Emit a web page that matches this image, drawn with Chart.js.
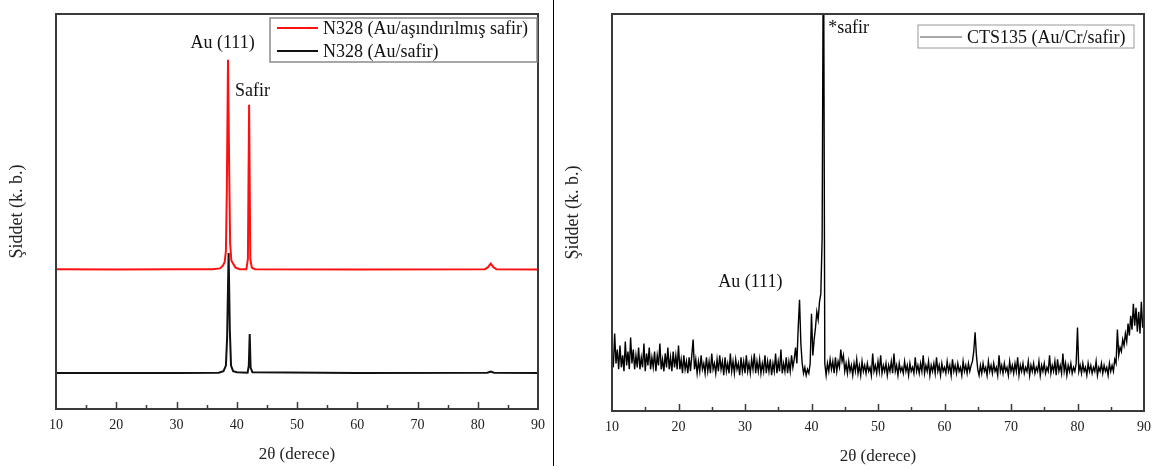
<!DOCTYPE html>
<html>
<head>
<meta charset="utf-8">
<script src="https://cdn.jsdelivr.net/npm/chart.js@4"></script>
<style>
  html, body { margin: 0; padding: 0; background: #fff; }
  #wrap { position: relative; width: 1159px; height: 470px; overflow: hidden; }
  #left { position: absolute; left: 0; top: 0; }
  #right { position: absolute; left: 556px; top: 0; }
  #divider { position: absolute; left: 553px; top: 0; width: 1px; height: 466px; background: #000; }
</style>
</head>
<body>
<div id="wrap">
  <canvas id="left" width="553" height="470"></canvas>
  <div id="divider"></div>
  <canvas id="right" width="603" height="470"></canvas>
</div>
<script>
// ---------------- DATA ----------------
// Left panel: N328 (Au/aşındırılmış safir) – red trace
const etchedAngle = [10, 20, 30, 36, 37.2, 37.7, 38.0, 38.2, 38.35, 38.55, 38.75, 38.9, 39.1, 39.4, 39.8, 40.5, 41.6, 41.85, 42.05, 42.25, 42.5, 43, 60, 81.2, 81.7, 82.15, 82.6, 83.1, 90];
const etchedIntensity = [35.4, 35.3, 35.4, 35.4, 35.6, 36.3, 37.2, 40, 55, 88.4, 60, 42, 37.6, 36.8, 35.8, 35.4, 35.4, 38, 77, 38, 35.8, 35.4, 35.3, 35.4, 35.9, 36.8, 35.9, 35.4, 35.3];

// Left panel: N328 (Au/safir) – black trace
const plainAngle = [10, 30, 37, 37.8, 38.2, 38.4, 38.65, 38.85, 39.05, 39.4, 40, 41.8, 42.0, 42.15, 42.3, 42.6, 60, 81.6, 82.15, 82.7, 90];
const plainIntensity = [9.1, 9.1, 9.2, 9.6, 11, 18, 39.5, 20, 11, 9.6, 9.3, 9.2, 11, 19, 10.5, 9.3, 9.1, 9.2, 9.5, 9.2, 9.1];

// Right panel: CTS135 (Au/Cr/safir), scan from 10° to 90° every 0.2°
const ctsStart = 10;
const ctsStep = 0.2;
const ctsIntensity = [
  14, 11, 19.5, 12, 15.5, 10.5, 16.5, 11, 14, 10,
  17.5, 11.5, 15, 10.5, 18.5, 12, 15.5, 10.5, 14, 11,
  16, 10.5, 13.5, 11, 17, 10, 14.5, 11.5, 16, 10.5,
  13.5, 11, 15, 10, 14, 11.5, 17, 10.5, 13, 10,
  14.5, 11, 16, 10.5, 13.5, 10, 15, 11, 14, 10.5,
  16.5, 10.5, 13, 9.5, 14, 10.5, 12.5, 9.5, 13.5, 10,
  14, 18, 10.5, 13, 9.5, 12.5, 10, 14, 10.5, 12,
  9.5, 13.5, 10, 12.5, 9.5, 14.5, 10.5, 12, 9.5, 13,
  10, 14, 10.5, 12.5, 9, 13.5, 10, 12, 9.5, 14.5,
  10, 12.5, 9.5, 13, 10.5, 12, 9, 13.5, 10, 12.5,
  9.5, 14, 10, 12, 9.5, 13, 10.5, 14.5, 9.5, 12.5,
  10, 13, 9.5, 12, 10, 14, 9.5, 12.5, 10, 13,
  9, 12, 10, 14.5, 9.5, 12.5, 10, 15.5, 9.5, 12,
  10, 13.5, 9.5, 12.5, 10, 14, 11, 13, 16, 12,
  21, 28, 17, 12, 9.5, 11, 9, 10.5, 9.5, 12,
  24.5, 14, 18, 21, 25, 23, 27.5, 29.5, 43.5, 130,
  12, 9, 12, 10, 13, 10.5, 12.5, 9.5, 13.5, 10,
  12.5, 11, 15.5, 12.5, 14, 10, 12, 9.5, 12.5, 10,
  11.5, 9, 12, 10, 13, 9.5, 11.5, 9, 12.5, 10,
  11.5, 9.5, 12, 10, 11, 9, 14.5, 10, 11.5, 9.5,
  12.5, 10, 14, 9.5, 11.5, 10, 12, 9, 11.5, 10,
  12.5, 9.5, 14.5, 10, 11.5, 9, 12, 10, 11, 9.5,
  12.5, 10, 11.5, 9, 12, 10, 11, 9.5, 13.5, 10,
  11.5, 9.5, 12, 10, 14, 9.5, 11.5, 10, 12.5, 9,
  11.5, 10, 12, 9.5, 13.5, 10, 11.5, 9, 12, 10,
  11, 9.5, 12.5, 10, 11.5, 9, 13, 10, 11.5, 9.5,
  12, 10, 11, 9, 12.5, 10, 11.5, 9.5, 12, 10,
  11.5, 12.5, 15, 19.8, 14, 10.5, 9, 11.5, 9.5, 12,
  10, 11, 9, 12.5, 10, 11.5, 9.5, 12, 10, 11,
  9, 14, 10, 11.5, 9.5, 12, 10, 11, 9, 12.5,
  10, 11.5, 9.5, 12, 10, 13.5, 9, 11.5, 10, 12,
  9.5, 11, 10, 12.5, 9, 11.5, 10, 12, 9.5, 11,
  10, 12.5, 9, 11.5, 10, 12, 9.5, 11, 10, 14,
  9.5, 11.5, 10, 12.5, 9, 13, 10, 11.5, 9.5, 14.5,
  10, 12, 9, 11.5, 10, 12, 9.5, 11, 10, 12,
  21, 10, 11.5, 9.5, 12, 10, 11, 9, 12, 10,
  11.5, 9.5, 11, 10, 12.5, 9, 11, 10, 12, 9.5,
  11.5, 10, 11, 9, 12, 10, 11.5, 10, 13, 12,
  20.5, 14, 16, 15, 18, 16.5, 19.5, 17.5, 22, 19,
  24, 20.5, 27, 21.5, 26, 20, 25, 19.5, 27.5, 21,
  24
];

// Axis ticks (labelled every 10°, minor every 5°)
const xMin = 10, xMax = 90, xStep = 5;
const xLabelEvery = 10;

// Labels
const leftLabels = ['N328 (Au/aşındırılmış safir)', 'N328 (Au/safir)'];
const rightLabels = ['CTS135 (Au/Cr/safir)'];
const xTitle = '2θ (derece)';
const yTitle = 'Şiddet (k. b.)';

// ---------------- STYLE / PLUGIN ----------------
const SERIF = '"Liberation Serif", "Times New Roman", serif';

const panelDecor = {
  id: 'panelDecor',
  afterDraw(chart, args, opts) {
    const { ctx, chartArea: a, scales } = chart;
    const x = scales.x, y = scales.y;
    ctx.save();
    // inward x ticks
    ctx.strokeStyle = opts.frameColor;
    ctx.lineWidth = 1.5;
    x.ticks.forEach(t => {
      if (t.value <= xMin || t.value >= xMax) return;
      const px = Math.round(x.getPixelForValue(t.value)) + 0.5;
      const len = (t.value % xLabelEvery === 0) ? opts.majorLen : opts.minorLen;
      ctx.beginPath();
      ctx.moveTo(px, a.bottom);
      ctx.lineTo(px, a.bottom - len);
      ctx.stroke();
    });
    // frame
    ctx.lineWidth = opts.frameWidth;
    ctx.strokeRect(a.left, a.top, a.right - a.left, a.bottom - a.top);
    // annotations
    ctx.fillStyle = '#111';
    ctx.textBaseline = 'middle';
    ctx.font = '18px ' + SERIF;
    opts.notes.forEach(n => {
      ctx.textAlign = n.align;
      ctx.fillText(n.text, x.getPixelForValue(n.x), y.getPixelForValue(n.y));
    });
    // legend
    const L = opts.legend;
    ctx.fillStyle = '#fff';
    ctx.fillRect(L.left, L.top, L.width, L.height);
    ctx.strokeStyle = L.borderColor;
    ctx.lineWidth = L.borderWidth;
    ctx.strokeRect(L.left, L.top, L.width, L.height);
    ctx.font = '18px ' + SERIF;
    ctx.textAlign = 'left';
    chart.data.datasets.forEach((ds, i) => {
      const cy = L.firstRow + i * L.rowGap;
      ctx.strokeStyle = L.sampleColor || ds.borderColor;
      ctx.lineWidth = L.sampleWidth;
      ctx.beginPath();
      ctx.moveTo(L.lineX0, cy);
      ctx.lineTo(L.lineX1, cy);
      ctx.stroke();
      ctx.fillStyle = '#111';
      ctx.fillText(ds.label, L.textX, cy + 1);
    });
    ctx.restore();
  }
};

function makeOptions(cfg) {
  return {
    responsive: false,
    animation: false,
    devicePixelRatio: 1,
    layout: { padding: { top: 14, right: cfg.padRight, bottom: 0, left: 0 } },
    elements: { point: { radius: 0 }, line: { tension: 0 } },
    plugins: {
      legend: { display: false },
      tooltip: { enabled: false },
      panelDecor: {
        frameColor: '#3a3a3a',
        frameWidth: 2,
        majorLen: 7,
        minorLen: 4,
        notes: cfg.notes,
        legend: cfg.legend
      }
    },
    scales: {
      x: {
        type: 'linear',
        min: xMin,
        max: xMax,
        grid: { display: false, drawTicks: false },
        border: { display: false },
        ticks: {
          stepSize: xStep,
          autoSkip: false,
          maxRotation: 0,
          padding: 8,
          color: '#222',
          font: { family: SERIF, size: 14 },
          callback: v => (v % xLabelEvery === 0 ? String(v) : '')
        },
        title: {
          display: true,
          text: xTitle,
          color: '#222',
          font: { family: SERIF, size: 17 },
          padding: { top: 0, bottom: cfg.xTitlePad }
        },
        afterFit: s => { s.height = cfg.xHeight; }
      },
      y: {
        min: 0,
        max: 100,
        grid: { display: false, drawTicks: false },
        border: { display: false },
        ticks: { display: false },
        title: {
          display: true,
          text: yTitle,
          color: '#222',
          font: { family: SERIF, size: 18 },
          padding: { top: 6, bottom: 0 }
        },
        afterFit: s => { s.width = 56; }
      }
    }
  };
}

const toPoints = (xs, ys) => xs.map((v, i) => ({ x: v, y: ys[i] }));
const ctsPoints = ctsIntensity.map((v, i) => ({ x: ctsStart + i * ctsStep, y: v }));

new Chart(document.getElementById('left'), {
  type: 'line',
  data: {
    datasets: [
      { label: leftLabels[0], data: toPoints(etchedAngle, etchedIntensity), borderColor: '#ff1010', borderWidth: 2, order: 1 },
      { label: leftLabels[1], data: toPoints(plainAngle, plainIntensity), borderColor: '#111111', borderWidth: 2, order: 0 }
    ]
  },
  options: makeOptions({
    padRight: 14,
    xHeight: 61,
    xTitlePad: 5,
    notes: [
      { text: 'Au (111)', x: 37.65, y: 92.5, align: 'center' },
      { text: 'Safir', x: 39.7, y: 80.5, align: 'left' }
    ],
    legend: {
      left: 270, top: 18, width: 267, height: 44,
      firstRow: 28, rowGap: 23,
      lineX0: 277, lineX1: 318, textX: 323,
      borderColor: '#8a8a8a', borderWidth: 1.5, sampleWidth: 2
    }
  }),
  plugins: [panelDecor]
});

new Chart(document.getElementById('right'), {
  type: 'line',
  data: {
    datasets: [
      { label: rightLabels[0], data: ctsPoints, borderColor: '#000000', borderWidth: 1.4 }
    ]
  },
  options: makeOptions({
    padRight: 11,
    xHeight: 59,
    xTitlePad: 3,
    notes: [
      { text: '*safir', x: 42.5, y: 96.3, align: 'left' },
      { text: 'Au (111)', x: 30.8, y: 32.5, align: 'center' }
    ],
    legend: {
      left: 362, top: 25, width: 216, height: 23,
      firstRow: 37, rowGap: 23,
      lineX0: 364, lineX1: 406, textX: 411,
      borderColor: '#9a9a9a', borderWidth: 1, sampleWidth: 1, sampleColor: '#555'
    }
  }),
  plugins: [panelDecor]
});
</script>
</body>
</html>
